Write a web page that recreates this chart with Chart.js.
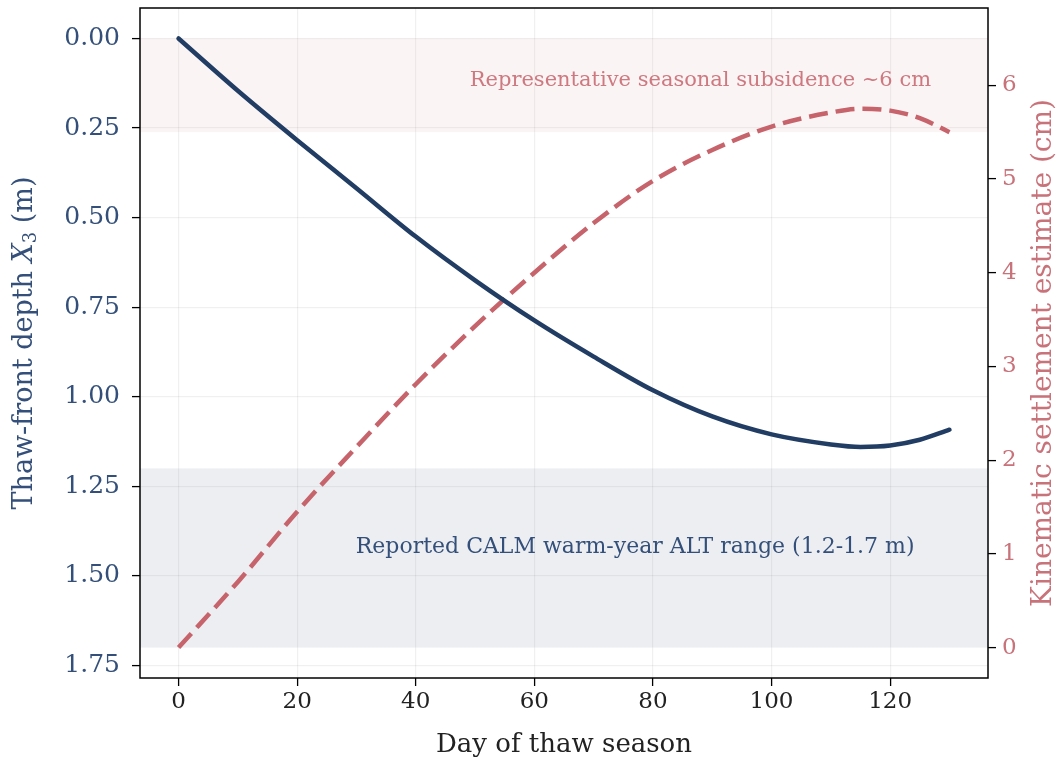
<!DOCTYPE html>
<html>
<head>
<meta charset="utf-8">
<script src="https://cdn.jsdelivr.net/npm/chart.js@4/dist/chart.umd.min.js"></script>
<style>
  html, body { margin: 0; padding: 0; background: #fff; }
</style>
</head>
<body>
<canvas id="thawChart" width="1061" height="763"></canvas>
<script>
// data
const days = [0, 10, 20, 30, 40, 50, 60, 70, 80, 90, 100, 110, 115, 120, 125, 130];
const thawDepth = [0, 0.146, 0.284, 0.418, 0.553, 0.675, 0.787, 0.888, 0.982, 1.055, 1.105, 1.133, 1.14, 1.136, 1.12, 1.092];
const settlement = [0, 0.70, 1.45, 2.14, 2.81, 3.43, 4.00, 4.53, 4.98, 5.31, 5.56, 5.71, 5.75, 5.73, 5.65, 5.50];

const xTicks = [0, 20, 40, 60, 80, 100, 120];
const depthTicks = [0, 0.25, 0.5, 0.75, 1.0, 1.25, 1.5, 1.75];
const settleTicks = [0, 1, 2, 3, 4, 5, 6];

const calmRange = [1.2, 1.7];       // m, left axis
const subsidenceRange = [5.5, 6.5]; // cm, right axis

const FONT = "'DejaVu Serif', serif";
const BLUE = "#213d63";
const RED = "#c6636b";
const BLUE_TXT = "#34507a";
const RED_TXT = "#c8727a";

// shaded bands, annotations, frame and custom axis titles
const decorations = {
  id: "decorations",
  beforeDatasetsDraw(chart) {
    const { ctx, chartArea, scales } = chart;
    ctx.save();
    let y0 = scales.y1.getPixelForValue(subsidenceRange[1]);
    let y1 = scales.y1.getPixelForValue(subsidenceRange[0]);
    ctx.fillStyle = "rgba(198, 99, 107, 0.07)";
    ctx.fillRect(chartArea.left, y0, chartArea.right - chartArea.left, y1 - y0);
    y0 = scales.y.getPixelForValue(calmRange[0]);
    y1 = scales.y.getPixelForValue(calmRange[1]);
    ctx.fillStyle = "rgba(33, 61, 99, 0.085)";
    ctx.fillRect(chartArea.left, y0, chartArea.right - chartArea.left, y1 - y0);
    ctx.restore();
  },
  afterDraw(chart) {
    const { ctx, chartArea, scales } = chart;
    ctx.save();
    // annotations
    ctx.textAlign = "center";
    ctx.textBaseline = "middle";
    ctx.font = "21px " + FONT;
    ctx.fillStyle = "rgba(198, 99, 107, 0.85)";
    ctx.fillText("Representative seasonal subsidence ~6 cm",
      scales.x.getPixelForValue(88), scales.y1.getPixelForValue(6.05));
    ctx.font = "22px " + FONT;
    ctx.fillStyle = BLUE_TXT;
    ctx.fillText("Reported CALM warm-year ALT range (1.2-1.7 m)",
      scales.x.getPixelForValue(77), scales.y.getPixelForValue(1.42));

    // frame
    ctx.strokeStyle = "#000";
    ctx.lineWidth = 1.5;
    ctx.strokeRect(chartArea.left, chartArea.top, chartArea.right - chartArea.left, chartArea.bottom - chartArea.top);

    const midY = (chartArea.top + chartArea.bottom) / 2;

    // left title with italic X and subscript 3
    ctx.translate(25, midY);
    ctx.rotate(-Math.PI / 2);
    ctx.textAlign = "left";
    ctx.textBaseline = "middle";
    ctx.fillStyle = BLUE_TXT;
    const p1 = "Thaw-front depth ";
    const p3 = " (m)";
    ctx.font = "27px " + FONT;
    const w1 = ctx.measureText(p1).width;
    const w3 = ctx.measureText(p3).width;
    ctx.font = "italic 27px " + FONT;
    const w2 = ctx.measureText("X").width;
    ctx.font = "18px " + FONT;
    const ws = ctx.measureText("3").width;
    let x = -(w1 + w2 + ws + w3) / 2;
    ctx.font = "27px " + FONT;
    ctx.fillText(p1, x, 0); x += w1;
    ctx.font = "italic 27px " + FONT;
    ctx.fillText("X", x, 0); x += w2;
    ctx.font = "18px " + FONT;
    ctx.fillText("3", x, 6); x += ws;
    ctx.font = "27px " + FONT;
    ctx.fillText(p3, x, 0);
    ctx.restore();

    // right title, reading bottom to top
    ctx.save();
    ctx.translate(1044, midY + 10);
    ctx.rotate(-Math.PI / 2);
    ctx.font = "28px " + FONT;
    ctx.textAlign = "center";
    ctx.textBaseline = "middle";
    ctx.fillStyle = RED_TXT;
    ctx.fillText("Kinematic settlement estimate (cm)", 0, 0);
    ctx.restore();
  }
};

const gridStyle = {
  color: "rgba(0, 0, 0, 0.06)",
  lineWidth: 1.2,
  tickColor: "#000",
  tickLength: 8,
  tickWidth: 1.3
};

function noPad(s) {
  s.paddingTop = 0;
  s.paddingBottom = 0;
  s.paddingLeft = 0;
  s.paddingRight = 0;
}

new Chart(document.getElementById("thawChart"), {
  type: "line",
  data: {
    datasets: [
      {
        label: "Thaw-front depth",
        data: days.map((d, i) => ({ x: d, y: thawDepth[i] })),
        yAxisID: "y",
        borderColor: BLUE,
        borderWidth: 4.5,
        pointRadius: 0,
        cubicInterpolationMode: "monotone",
        borderCapStyle: "round",
        fill: false
      },
      {
        label: "Kinematic settlement",
        data: days.map((d, i) => ({ x: d, y: settlement[i] })),
        yAxisID: "y1",
        borderColor: RED,
        borderWidth: 4.5,
        borderDash: [19, 8],
        pointRadius: 0,
        cubicInterpolationMode: "monotone",
        fill: false
      }
    ]
  },
  options: {
    responsive: false,
    animation: false,
    devicePixelRatio: 1,
    layout: { padding: { top: 8, left: 0, right: 0, bottom: 0 } },
    plugins: { legend: { display: false }, tooltip: { enabled: false } },
    scales: {
      x: {
        type: "linear",
        min: -6.5,
        max: 136.5,
        afterFit: (s) => { s.height = 85; noPad(s); },
        afterBuildTicks: (s) => { s.ticks = xTicks.map((v) => ({ value: v })); },
        ticks: { font: { family: FONT, size: 23 }, color: "#222", padding: 2, maxRotation: 0 },
        grid: gridStyle,
        border: { display: false },
        title: {
          display: true,
          text: "Day of thaw season",
          font: { family: FONT, size: 26 },
          color: "#222",
          padding: { top: 7, bottom: 2 }
        }
      },
      y: {
        type: "linear",
        position: "left",
        reverse: true,
        min: -0.085,
        max: 1.785,
        afterFit: (s) => { s.width = 140; noPad(s); },
        afterBuildTicks: (s) => { s.ticks = depthTicks.map((v) => ({ value: v })); },
        ticks: {
          font: { family: FONT, size: 25 },
          color: BLUE_TXT,
          padding: 12,
          callback: (v) => v.toFixed(2)
        },
        grid: gridStyle,
        border: { display: false }
      },
      y1: {
        type: "linear",
        position: "right",
        min: -0.325,
        max: 6.825,
        afterFit: (s) => { s.width = 73; noPad(s); },
        afterBuildTicks: (s) => { s.ticks = settleTicks.map((v) => ({ value: v })); },
        ticks: { font: { family: FONT, size: 23 }, color: RED_TXT, padding: 6 },
        grid: Object.assign({}, gridStyle, { drawOnChartArea: false }),
        border: { display: false }
      }
    }
  },
  plugins: [decorations]
});
</script>
</body>
</html>
